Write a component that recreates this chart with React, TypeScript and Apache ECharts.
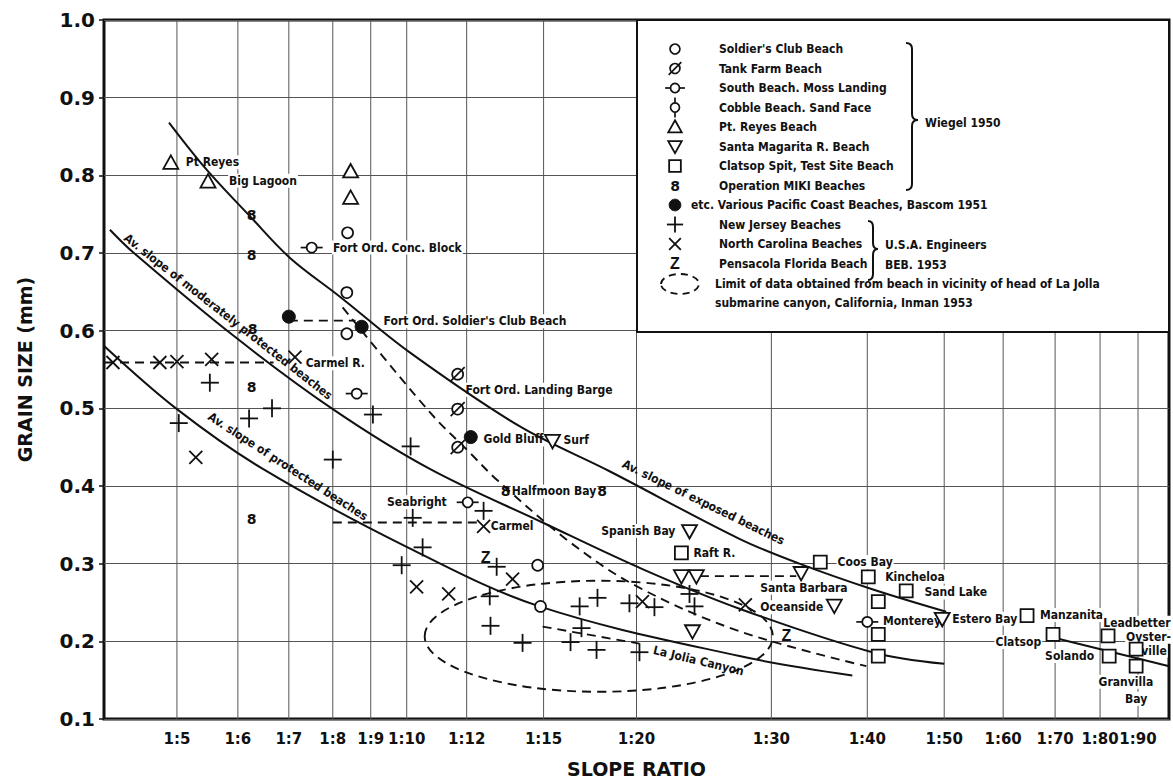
import React, { useEffect, useRef } from 'react';
import * as echarts from 'echarts';

// Slope-ratio axis: tick ratios (1:n) and their positions along the axis.
const SLOPE_TICKS = [5, 6, 7, 8, 9, 10, 12, 15, 20, 30, 40, 50, 60, 70, 80, 90];
const SLOPE_TICK_POS = [73, 134, 185, 229, 267, 303, 363, 440, 533, 668, 764, 841, 900, 952, 997, 1035];
const SLOPE_AXIS_END = 1066;

// Observations: [slope ratio n (1:n), grain size mm]
const SOLDIERS_CLUB = [[8.39, 0.726], [8.37, 0.649], [8.37, 0.596], [14.77, 0.298], [14.88, 0.245]];
const TANK_FARM = [[11.7, 0.544], [11.7, 0.499], [11.7, 0.45]];
const MOSS_LANDING = [[7.52, 0.707], [8.63, 0.519], [12.04, 0.379], [40.0, 0.225]];
const PT_REYES = [[4.9, 0.816], [5.51, 0.792], [8.47, 0.805], [8.47, 0.771]];
const SANTA_MARGARITA = [
  [15.48, 0.458], [23.93, 0.342], [23.33, 0.284], [24.44, 0.284], [24.15, 0.213],
  [33.1, 0.288], [36.56, 0.246], [49.74, 0.229],
];
const CLATSOP_SPIT = [
  [23.33, 0.314], [35.1, 0.302], [40.13, 0.283], [45.06, 0.265], [41.43, 0.251],
  [41.43, 0.209], [41.43, 0.181], [64.6, 0.233], [69.6, 0.209], [82.1, 0.207],
  [82.4, 0.181], [89.5, 0.19], [89.5, 0.168],
];
const MIKI = [[6.27, 0.749], [6.27, 0.698], [6.29, 0.602], [6.27, 0.528], [6.27, 0.357], [13.52, 0.393], [18.15, 0.393]];
const BASCOM = [[7.0, 0.618], [8.76, 0.605], [12.16, 0.463]];
const NEW_JERSEY = [
  [5.03, 0.481], [5.54, 0.533], [6.22, 0.487], [6.67, 0.5], [8.0, 0.434], [9.06, 0.492],
  [10.13, 0.451], [10.2, 0.359], [9.86, 0.298], [10.53, 0.321], [12.66, 0.368], [13.17, 0.296],
  [12.9, 0.258], [12.93, 0.22], [14.18, 0.198], [16.45, 0.199], [17.04, 0.217], [16.94, 0.245],
  [17.9, 0.256], [17.85, 0.189], [19.62, 0.249], [20.22, 0.186], [21.33, 0.244], [23.93, 0.261],
  [24.3, 0.245],
];
const NORTH_CAROLINA = [
  [3.95, 0.559], [4.72, 0.559], [5.0, 0.56], [5.57, 0.563], [7.14, 0.566], [5.31, 0.437],
  [12.66, 0.348], [13.79, 0.28], [10.33, 0.27], [11.4, 0.261], [20.44, 0.251], [28.07, 0.247],
];
const PENSACOLA = [[12.74, 0.308], [31.56, 0.208]];

// Average-slope curves
const EXPOSED_CURVE = [
  [4.87, 0.868], [5.48, 0.808], [6.27, 0.745], [7.02, 0.694], [8.18, 0.644], [10.1, 0.572],
  [14.06, 0.477], [18.55, 0.419], [27.63, 0.332], [32.92, 0.3], [40.65, 0.267], [50.34, 0.238],
];
const EXPOSED_TAIL = [[69.04, 0.206], [98.2, 0.168]];
const MODERATE_CURVE = [
  [3.9, 0.73], [4.28, 0.701], [5.92, 0.594], [8.0, 0.499], [10.77, 0.422], [14.96, 0.353],
  [20.44, 0.293], [27.63, 0.242], [40.65, 0.186], [50.0, 0.171],
];
const PROTECTED_CURVE = [
  [3.81, 0.58], [5.0, 0.499], [6.49, 0.422], [10.03, 0.321], [14.84, 0.245], [27.63, 0.181], [38.44, 0.156],
];
const DASHED_CURVE = [
  [8.26, 0.63], [10.77, 0.495], [12.12, 0.443], [13.21, 0.407], [16.4, 0.328], [20.0, 0.271],
  [27.63, 0.213], [39.9, 0.168],
];

// Dashed links between related observations
const BASCOM_LINK = [[7.0, 0.613], [8.6, 0.613]];
const CARMEL_R_LINK = [[3.82, 0.559], [6.7, 0.559]];
const CARMEL_LINK = [[8.0, 0.353], [12.4, 0.353]];
const SANTA_BARBARA_LINK = [[24.7, 0.284], [32.6, 0.284]];
const LA_JOLLA_LINK = [[14.96, 0.219], [20.22, 0.197]];

// La Jolla canyon data limit: [left ratio, right ratio, top mm, bottom mm]
const LA_JOLLA_LIMIT = [10.6, 30.15, 0.278, 0.135];

// Place names: [text, ratio, grain]
const PLACE_LABELS: [string, number, number][] = [
  ['Pt Reyes', 5.13, 0.817],
  ['Big Lagoon', 5.84, 0.793],
  ['Fort Ord. Conc. Block', 7.98, 0.707],
  ["Fort Ord. Soldier's Club Beach", 9.33, 0.612],
  ['Carmel R.', 7.36, 0.558],
  ['Fort Ord. Landing Barge', 11.93, 0.524],
  ['Gold Bluff', 12.62, 0.46],
  ['Surf', 16.02, 0.459],
  ['Halfmoon Bay', 13.72, 0.393],
  ['Seabright', 11.37, 0.379],
  ['Carmel', 12.9, 0.348],
  ['Spanish Bay', 22.96, 0.342],
  ['Raft R.', 24.15, 0.314],
  ['Santa Barbara', 29.1, 0.269],
  ['Oceanside', 29.1, 0.244],
  ['Coos Bay', 36.8, 0.302],
  ['Kincheloa', 42.2, 0.283],
  ['Sand Lake', 47.3, 0.263],
  ['Monterey', 41.9, 0.226],
  ['Estero Bay', 51.2, 0.229],
  ['Manzanita', 66.9, 0.234],
  ['Clatsop', 67.5, 0.199],
  ['Leadbetter', 80.6, 0.224],
  ['Oyster-', 86.6, 0.206],
  ['ville', 90.6, 0.188],
  ['Solando', 78.9, 0.181],
  ['Granvilla', 86.8, 0.148],
  ['Bay', 89.5, 0.126],
];
const RIGHT_ALIGNED = new Set(['Seabright', 'Spanish Bay', 'Clatsop', 'Solando']);
const CENTERED = new Set(['Granvilla', 'Bay']);

// Curve captions: [text, ratio, grain]
const CURVE_LABELS: [string, number, number][] = [
  ['Av. slope of exposed beaches', 24.96, 0.379],
  ['Av. slope of moderately protected beaches', 5.84, 0.618],
  ['Av. slope of protected beaches', 6.98, 0.425],
  ['La Jolia Canyon', 24.6, 0.175],
];
const CURVE_LABEL_ANGLE: Record<string, number> = {
  'Av. slope of exposed beaches': 26,
  'Av. slope of moderately protected beaches': 38,
  'Av. slope of protected beaches': 33,
  'La Jolia Canyon': 13.5,
};

const LEGEND_ENTRIES: [string, string][] = [
  ['circle', "Soldier's Club Beach"],
  ['tank', 'Tank Farm Beach'],
  ['moss', 'South Beach. Moss Landing'],
  ['cobble', 'Cobble Beach. Sand Face'],
  ['up', 'Pt. Reyes Beach'],
  ['down', 'Santa Magarita R. Beach'],
  ['square', 'Clatsop Spit, Test Site Beach'],
  ['eight', 'Operation MIKI Beaches'],
  ['filled', 'etc. Various Pacific Coast Beaches, Bascom 1951'],
  ['plus', 'New Jersey Beaches'],
  ['cross', 'North Carolina Beaches'],
  ['zee', 'Pensacola Florida Beach'],
];

const INK = '#111';
const GRID_INK = '#555';
const NARROW = "'Liberation Sans Narrow', 'DejaVu Sans Condensed', 'Liberation Sans', sans-serif";
const HEAVY = "'DejaVu Sans', 'Liberation Sans', sans-serif";
const LABEL_SIZE = 12;

function slopePos(n: number): number {
  const t = SLOPE_TICKS;
  const p = SLOPE_TICK_POS;
  let i = 0;
  if (n >= t[t.length - 1]) i = t.length - 2;
  else if (n > t[0]) {
    while (n > t[i + 1]) i++;
  }
  const f = (n - t[i]) / (t[i + 1] - t[i]);
  return p[i] + f * (p[i + 1] - p[i]);
}

const toXY = (pts: number[][]) => pts.map(([n, g]) => [slopePos(n), g]);

function seg(x1: number, y1: number, x2: number, y2: number, w = 1.7): any {
  return { type: 'line', shape: { x1, y1, x2, y2 }, style: { stroke: INK, lineWidth: w } };
}

function markerParts(kind: string, x: number, y: number, k = 1): any[] {
  const open = { stroke: INK, lineWidth: 1.7, fill: '#fff' };
  const out: any[] = [];
  switch (kind) {
    case 'circle':
      out.push({ type: 'circle', shape: { cx: x, cy: y, r: 5.5 * k }, style: open });
      break;
    case 'tank':
      out.push({ type: 'circle', shape: { cx: x, cy: y, r: 5.5 * k }, style: open });
      out.push(seg(x - 7 * k, y + 7 * k, x + 7 * k, y - 7 * k));
      break;
    case 'moss':
      out.push(seg(x - 11 * k, y, x + 11 * k, y));
      out.push({ type: 'circle', shape: { cx: x, cy: y, r: 5 * k }, style: open });
      break;
    case 'cobble':
      out.push(seg(x, y - 11 * k, x, y + 11 * k));
      out.push({ type: 'circle', shape: { cx: x, cy: y, r: 5 * k }, style: open });
      break;
    case 'up':
      out.push({ type: 'polygon', shape: { points: [[x, y - 7.5 * k], [x + 7.5 * k, y + 6 * k], [x - 7.5 * k, y + 6 * k]] }, style: { ...open, lineWidth: 1.8 } });
      break;
    case 'down':
      out.push({ type: 'polygon', shape: { points: [[x - 7.5 * k, y - 6 * k], [x + 7.5 * k, y - 6 * k], [x, y + 7.5 * k]] }, style: { ...open, lineWidth: 1.8 } });
      break;
    case 'square':
      out.push({ type: 'rect', shape: { x: x - 6.5 * k, y: y - 6.5 * k, width: 13 * k, height: 13 * k }, style: { ...open, lineWidth: 1.8 } });
      break;
    case 'eight':
      out.push({ type: 'text', x, y, style: { text: '8', fontFamily: HEAVY, fontSize: 14, fontWeight: 'bold', fill: INK, align: 'center', verticalAlign: 'middle' } });
      break;
    case 'filled':
      out.push({ type: 'circle', shape: { cx: x, cy: y, r: 6.5 * k }, style: { fill: INK, stroke: INK, lineWidth: 1 } });
      break;
    case 'plus':
      out.push(seg(x - 9 * k, y, x + 9 * k, y, 1.8));
      out.push(seg(x, y - 9 * k, x, y + 9 * k, 1.8));
      break;
    case 'cross':
      out.push(seg(x - 6.5 * k, y - 6.5 * k, x + 6.5 * k, y + 6.5 * k, 1.8));
      out.push(seg(x - 6.5 * k, y + 6.5 * k, x + 6.5 * k, y - 6.5 * k, 1.8));
      break;
    case 'zee':
      out.push({ type: 'text', x, y, style: { text: 'Z', fontFamily: "'Liberation Sans', sans-serif", fontSize: 16, fontWeight: 'bold', fill: INK, align: 'center', verticalAlign: 'middle' } });
      break;
  }
  return out;
}

function markerSeries(name: string, kind: string, pts: number[][]): any {
  return {
    type: 'custom',
    name,
    coordinateSystem: 'cartesian2d',
    data: toXY(pts),
    z: 6,
    silent: true,
    renderItem: (_p: any, api: any) => {
      const c = api.coord([api.value(0), api.value(1)]);
      return { type: 'group', children: markerParts(kind, c[0], c[1]) };
    },
  };
}

// Smooth curve drawn as one polyline through the converted points.
function curveSeries(name: string, pts: number[][], dashed = false): any {
  const xy = toXY(pts);
  return {
    type: 'custom',
    name,
    coordinateSystem: 'cartesian2d',
    data: [xy[0]],
    z: 4,
    silent: true,
    renderItem: (_p: any, api: any) => ({
      type: 'polyline',
      shape: { points: xy.map((v) => api.coord(v)), smooth: 0.35 },
      style: { fill: 'none', stroke: INK, lineWidth: dashed ? 1.9 : 2, lineDash: dashed ? [9, 6] : null },
    }),
  };
}

function linkSeries(name: string, pts: number[][]): any {
  return {
    type: 'line',
    name,
    data: toXY(pts),
    symbol: 'none',
    silent: true,
    z: 4,
    lineStyle: { color: INK, width: 1.8, type: [9, 6] },
  };
}

function braceShapes(x0: number, y0: number, y1: number, yTip: number, w: number): any[] {
  const xm = x0 + w / 2;
  const xt = x0 + w;
  const r = 6;
  const st = { stroke: INK, lineWidth: 2, fill: 'none' };
  return [
    { type: 'bezierCurve', shape: { x1: x0, y1: y0, cpx1: xm, cpy1: y0, x2: xm, y2: y0 + r }, style: st },
    { type: 'line', shape: { x1: xm, y1: y0 + r, x2: xm, y2: yTip - r }, style: st },
    { type: 'bezierCurve', shape: { x1: xm, y1: yTip - r, cpx1: xm, cpy1: yTip, x2: xt, y2: yTip }, style: st },
    { type: 'bezierCurve', shape: { x1: xt, y1: yTip, cpx1: xm, cpy1: yTip, x2: xm, y2: yTip + r }, style: st },
    { type: 'line', shape: { x1: xm, y1: yTip + r, x2: xm, y2: y1 - r }, style: st },
    { type: 'bezierCurve', shape: { x1: xm, y1: y1 - r, cpx1: xm, cpy1: y1, x2: x0, y2: y1 }, style: st },
  ];
}

function legendGraphics(): any[] {
  const els: any[] = [];
  els.push({ type: 'rect', z: 100, shape: { x: 637, y: 20, width: 532, height: 312 }, style: { fill: '#fff', stroke: INK, lineWidth: 2 } });
  const txt = (text: string, x: number, y: number) => ({
    type: 'text', x, y,
    style: { text, fontFamily: NARROW, fontSize: LABEL_SIZE, fontWeight: 'bold', fill: INK, align: 'left', verticalAlign: 'middle' },
  });
  LEGEND_ENTRIES.forEach(([kind, label], i) => {
    const y = 49 + i * 19.5;
    markerParts(kind, 675, y, 0.9).forEach((e) => els.push(e));
    els.push(txt(label, kind === 'filled' ? 691 : 719, y));
  });
  els.push({ type: 'ellipse', shape: { cx: 680, cy: 284, rx: 19, ry: 10 }, style: { fill: 'none', stroke: INK, lineWidth: 1.8, lineDash: [7, 5] } });
  els.push(txt('Limit of data obtained from beach in vicinity of head of La Jolla', 715, 284));
  els.push(txt('submarine canyon, California, Inman 1953', 715, 303));
  braceShapes(906, 43, 190, 120, 12).forEach((e) => els.push(e));
  els.push(txt('Wiegel 1950', 925, 123));
  braceShapes(868, 221, 280, 249, 10).forEach((e) => els.push(e));
  els.push(txt('U.S.A. Engineers', 885, 245));
  els.push(txt('BEB. 1953', 885, 265));
  return els.map((e, i) => (i === 0 ? e : { ...e, z: 101 }));
}

function buildOption(): any {
  const nearestTick = (v: number) => {
    let best = 0;
    SLOPE_TICK_POS.forEach((p, i) => {
      if (Math.abs(p - v) < Math.abs(SLOPE_TICK_POS[best] - v)) best = i;
    });
    return SLOPE_TICKS[best];
  };

  return {
    animation: false,
    backgroundColor: '#fff',
    grid: { left: 104, right: 4, top: 20, bottom: 61, show: true, borderColor: INK, borderWidth: 3, backgroundColor: '#fff' },
    xAxis: {
      type: 'value',
      min: 0,
      max: SLOPE_AXIS_END,
      axisLine: { show: false },
      axisTick: { show: false },
      splitLine: { show: false },
      axisLabel: {
        customValues: SLOPE_TICK_POS,
        formatter: (v: number) => '1:' + nearestTick(v),
        fontFamily: HEAVY,
        fontWeight: 'bold',
        fontSize: 15,
        color: INK,
        margin: 12,
      },
      name: 'SLOPE RATIO',
      nameLocation: 'middle',
      nameGap: 40,
      nameTextStyle: { fontFamily: HEAVY, fontWeight: 'bold', fontSize: 19, color: INK },
    },
    yAxis: {
      type: 'value',
      min: 0.1,
      max: 1.0,
      interval: 0.1,
      axisLine: { show: false },
      axisTick: { show: true, length: 5, lineStyle: { color: INK, width: 1.5 } },
      splitLine: { show: true, lineStyle: { color: GRID_INK, width: 1 } },
      axisLabel: {
        formatter: (v: number) => v.toFixed(1),
        fontFamily: HEAVY,
        fontWeight: 'bold',
        fontSize: 20,
        color: INK,
        margin: 9,
      },
      name: 'GRAIN SIZE (mm)',
      nameLocation: 'middle',
      nameGap: 70,
      nameTextStyle: { fontFamily: HEAVY, fontWeight: 'bold', fontSize: 19, color: INK },
    },
    graphic: { elements: legendGraphics() },
    series: [
      {
        type: 'custom',
        name: 'slope grid',
        coordinateSystem: 'cartesian2d',
        data: SLOPE_TICK_POS.map((p) => [p, 0.1]),
        z: 1,
        silent: true,
        renderItem: (_p: any, api: any) => {
          const a = api.coord([api.value(0), 1.0]);
          const b = api.coord([api.value(0), 0.1]);
          return { type: 'line', shape: { x1: a[0], y1: a[1], x2: b[0], y2: b[1] }, style: { stroke: GRID_INK, lineWidth: 1 } };
        },
      },
      {
        type: 'custom',
        name: 'place labels',
        coordinateSystem: 'cartesian2d',
        data: PLACE_LABELS.map(([, n, g]) => [slopePos(n), g]),
        z: 3,
        silent: true,
        renderItem: (p: any, api: any) => {
          const text = PLACE_LABELS[p.dataIndex][0];
          const c = api.coord([api.value(0), api.value(1)]);
          const align = RIGHT_ALIGNED.has(text) ? 'right' : CENTERED.has(text) ? 'center' : 'left';
          return {
            type: 'text', x: c[0], y: c[1],
            style: { text, fontFamily: NARROW, fontSize: LABEL_SIZE, fontWeight: 'bold', fill: INK, align, verticalAlign: 'middle', backgroundColor: '#fff', padding: [1, 1] },
          };
        },
      },
      {
        type: 'custom',
        name: 'curve captions',
        coordinateSystem: 'cartesian2d',
        data: CURVE_LABELS.map(([, n, g]) => [slopePos(n), g]),
        z: 3,
        silent: true,
        renderItem: (p: any, api: any) => {
          const text = CURVE_LABELS[p.dataIndex][0];
          const c = api.coord([api.value(0), api.value(1)]);
          return {
            type: 'text', x: c[0], y: c[1], rotation: (-CURVE_LABEL_ANGLE[text] * Math.PI) / 180,
            style: { text, fontFamily: NARROW, fontSize: LABEL_SIZE, fontWeight: 'bold', fill: INK, align: 'center', verticalAlign: 'middle' },
          };
        },
      },
      {
        type: 'custom',
        name: 'La Jolla limit',
        coordinateSystem: 'cartesian2d',
        data: [[slopePos(LA_JOLLA_LIMIT[0]), slopePos(LA_JOLLA_LIMIT[1]), LA_JOLLA_LIMIT[2], LA_JOLLA_LIMIT[3]]],
        encode: { x: [0, 1], y: [2, 3] },
        z: 4,
        silent: true,
        renderItem: (_p: any, api: any) => {
          const l = api.coord([api.value(0), api.value(2)]);
          const r = api.coord([api.value(1), api.value(3)]);
          return {
            type: 'ellipse',
            shape: { cx: (l[0] + r[0]) / 2, cy: (l[1] + r[1]) / 2, rx: Math.abs(r[0] - l[0]) / 2, ry: Math.abs(r[1] - l[1]) / 2 },
            style: { fill: 'none', stroke: INK, lineWidth: 1.9, lineDash: [9, 6] },
          };
        },
      },
      curveSeries('exposed', EXPOSED_CURVE),
      curveSeries('exposed tail', EXPOSED_TAIL),
      curveSeries('moderately protected', MODERATE_CURVE),
      curveSeries('protected', PROTECTED_CURVE),
      curveSeries('dashed trend', DASHED_CURVE, true),
      linkSeries('Bascom link', BASCOM_LINK),
      linkSeries('Carmel R. link', CARMEL_R_LINK),
      linkSeries('Carmel link', CARMEL_LINK),
      linkSeries('Santa Barbara link', SANTA_BARBARA_LINK),
      linkSeries('La Jolla link', LA_JOLLA_LINK),
      markerSeries("Soldier's Club Beach", 'circle', SOLDIERS_CLUB),
      markerSeries('Tank Farm Beach', 'tank', TANK_FARM),
      markerSeries('South Beach. Moss Landing', 'moss', MOSS_LANDING),
      markerSeries('Pt. Reyes Beach', 'up', PT_REYES),
      markerSeries('Santa Magarita R. Beach', 'down', SANTA_MARGARITA),
      markerSeries('Clatsop Spit, Test Site Beach', 'square', CLATSOP_SPIT),
      markerSeries('Operation MIKI Beaches', 'eight', MIKI),
      markerSeries('Bascom 1951', 'filled', BASCOM),
      markerSeries('New Jersey Beaches', 'plus', NEW_JERSEY),
      markerSeries('North Carolina Beaches', 'cross', NORTH_CAROLINA),
      markerSeries('Pensacola Florida Beach', 'zee', PENSACOLA),
    ],
  };
}

export default function App() {
  const ref = useRef<HTMLDivElement>(null);
  useEffect(() => {
    if (!ref.current) return;
    const chart = echarts.init(ref.current, undefined, { renderer: 'svg' });
    chart.setOption(buildOption());
    return () => chart.dispose();
  }, []);
  return (
    <div
      ref={ref}
      style={{ position: 'absolute', left: 0, top: 0, width: 1173, height: 783, background: '#fff' }}
    />
  );
}
